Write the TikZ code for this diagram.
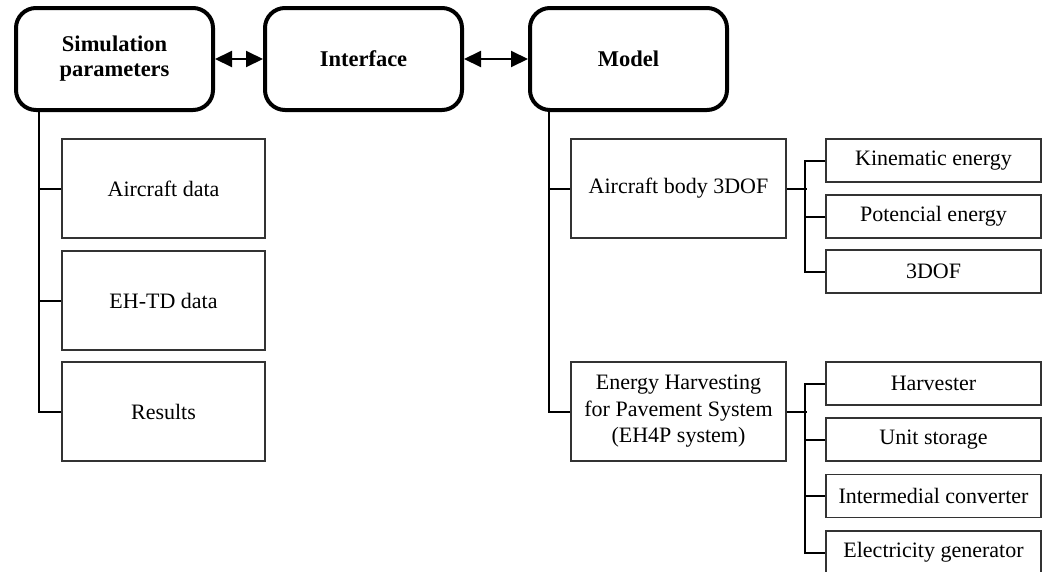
\documentclass[tikz,border=0pt]{standalone}
\usepackage{fontspec}
\setmainfont{Liberation Serif}
\usetikzlibrary{arrows.meta}
\begin{document}
\begin{tikzpicture}[x=1pt,y=-1pt,
  topbox/.style={draw=black, line width=4pt, rounded corners=20pt, fill=white, minimum width=197pt, minimum height=102pt, inner sep=0pt, align=center, font=\fontsize{22.5}{25}\selectfont\bfseries},
  bigbox/.style={draw=black!80, line width=1.6pt, minimum height=99pt, inner sep=0pt, align=center, font=\fontsize{22}{26.5}\selectfont},
  smallbox/.style={draw=black!80, line width=1.6pt, minimum width=215pt, minimum height=43pt, inner sep=0pt, align=center, font=\fontsize{22}{25}\selectfont},
  conn/.style={draw=black, line width=2pt},
  dbl/.style={line width=2pt, {Triangle[length=17pt,width=16pt]}-{Triangle[length=17pt,width=16pt]}}
]
\useasboundingbox (0,0) rectangle (1049,571);

% top boxes
\node[topbox] (sim) at (114.5,59) {Simulation\\parameters};
\node[topbox] (itf) at (363.5,59) {Interface};
\node[topbox] (mod) at (628.5,59) {Model};
\draw[dbl] (sim.east) -- (itf.west);
\draw[dbl] (itf.east) -- (mod.west);

% left column
\node[bigbox, minimum width=203pt] (ad) at (163.5,188.5) {Aircraft data};
\node[bigbox, minimum width=203pt] (eh) at (163.5,300.5) {EH-TD data};
\node[bigbox, minimum width=203pt] (res) at (163.5,411.5) {Results};
\draw[conn] (res.west) -| ([xshift=25pt]sim.south west);
\draw[conn] (ad.west) -- ++(-21,0);
\draw[conn] (eh.west) -- ++(-21,0);

% model column
\node[bigbox, minimum width=215pt] (ab) at (678.5,188.5) {Aircraft body 3DOF};
\node[bigbox, minimum width=215pt] (ehp) at (678.5,411.5) {Energy Harvesting\\for Pavement System\\(EH4P system)};
\draw[conn] (ehp.west) -| ([xshift=21pt]mod.south west);
\draw[conn] (ab.west) -- ++(-20,0);

% aircraft body children
\node[smallbox] (ke) at (933.5,160.5) {Kinematic energy};
\node[smallbox] (pe) at (933.5,216.5) {Potencial energy};
\node[smallbox] (td) at (933.5,271.5) {3DOF};
\draw[conn] (ab.east) -- ++(20,0);
\draw[conn] (ke.west) -- ++(-20,0) |- (td.west);
\draw[conn] (pe.west) -- ++(-20,0);

% EH4P children
\node[smallbox] (hv) at (933.5,383.5) {Harvester};
\node[smallbox] (us) at (933.5,439.5) {Unit storage};
\node[smallbox] (ic) at (933.5,496) {Intermedial converter};
\node[smallbox] (eg) at (933.5,552.5) {Electricity generator};
\draw[conn] (ehp.east) -- ++(20,0);
\draw[conn] (hv.west) -- ++(-20,0) |- (eg.west);
\draw[conn] (us.west) -- ++(-20,0);
\draw[conn] (ic.west) -- ++(-20,0);
\end{tikzpicture}
\end{document}
